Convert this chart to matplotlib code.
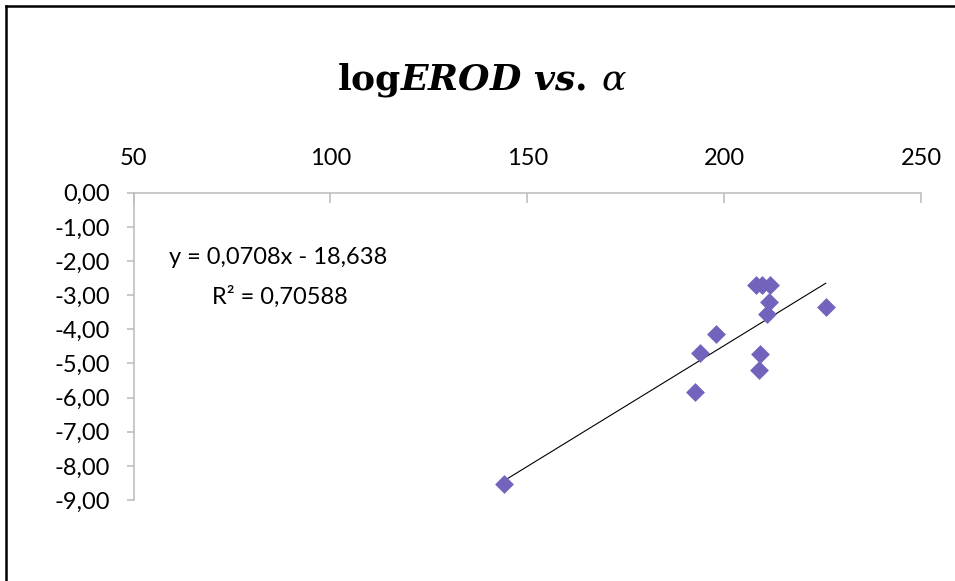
import numpy as np
import matplotlib
matplotlib.use('Agg')
import matplotlib.pyplot as plt
from matplotlib.lines import Line2D

# данные
alpha = [144.2, 192.6, 193.9, 197.9, 208.0, 209.7, 211.7, 211.0, 211.5, 208.9, 209.1, 225.8]
log_erod = [-8.54, -5.83, -4.68, -4.14, -2.70, -2.70, -2.70, -3.55, -3.21, -5.19, -4.72, -3.36]

# линейный тренд (как в подписи)
slope = 0.0708
intercept = -18.638
r2 = 0.70588

x_ticks = [50, 100, 150, 200, 250]
y_ticks = [0, -1, -2, -3, -4, -5, -6, -7, -8, -9]
y_labels = ['0,00', '-1,00', '-2,00', '-3,00', '-4,00', '-5,00', '-6,00', '-7,00', '-8,00', '-9,00']

plt.rcParams['font.family'] = ['Lato', 'DejaVu Sans']
plt.rcParams['mathtext.fontset'] = 'custom'
plt.rcParams['mathtext.rm'] = 'DejaVu Serif:bold'
plt.rcParams['mathtext.it'] = 'DejaVu Serif:bold:italic'
plt.rcParams['mathtext.sf'] = 'DejaVu Serif:italic'

W, H = 955, 581
fig = plt.figure(figsize=(W / 100, H / 100), dpi=100)
ax = fig.add_axes([0.1398, 0.1394, 0.8246, 0.5289])

ax.scatter(alpha, log_erod, marker='D', s=9.6 ** 2, color='#7463BD', zorder=3, linewidths=0)

xs = np.array([min(alpha), max(alpha)])
ax.plot(xs, slope * xs + intercept, color='black', lw=0.8, zorder=2)

ax.set_xlim(50, 250)
ax.set_ylim(-9, 0)
ax.set_xticks(x_ticks)
ax.set_xticklabels([str(t) for t in x_ticks])
ax.set_yticks(y_ticks)
ax.set_yticklabels(y_labels)

axis_col = '#BFBFBF'
for s in ['right', 'bottom']:
    ax.spines[s].set_visible(False)
for s in ['top', 'left']:
    ax.spines[s].set_color(axis_col)
    ax.spines[s].set_linewidth(1.2)
ax.xaxis.tick_top()
ax.tick_params(axis='x', direction='in', length=7, width=1.2, color=axis_col,
               labelsize=17, pad=17)
ax.tick_params(axis='y', direction='out', length=5, width=1.2, color=axis_col,
               labelsize=17, pad=12)

# подпись уравнения тренда, координаты в пикселях
eq = f'y = {slope:.4f}x - {abs(intercept):.3f}'.replace('.', ',')
r2_txt = f'R² = {r2:.5f}'.replace('.', ',')
fig.text(278.5 / W, 1 - 257 / H, eq, ha='center', va='center', fontsize=17)
fig.text(279.5 / W, 1 - 297 / H, r2_txt, ha='center', va='center', fontsize=17)

fig.text(0.505, 1 - 80 / H, r'$\mathrm{log}EROD\ vs.\,\mathsf{\alpha}$', ha='center', va='center',
         fontsize=26)

# рамка области диаграммы
fig.add_artist(Line2D([5.5 / W, 5.5 / W], [0, 1 - 6 / H], color='black', lw=1.8))
fig.add_artist(Line2D([5.5 / W, 1], [1 - 6 / H, 1 - 6 / H], color='black', lw=1.8))

plt.savefig('out.png', dpi=100)
plt.close()
